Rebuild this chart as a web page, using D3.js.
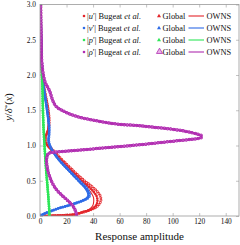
<!DOCTYPE html>
<html>
<head>
<meta charset="utf-8">
<script src="https://cdn.jsdelivr.net/npm/d3@7"></script>
<style>
  body { margin: 0; background: #fff; }
  svg { display: block; font-family: "Liberation Serif", "DejaVu Serif", serif; }
</style>
</head>
<body>
<svg id="chart" width="240" height="245"></svg>
<script>
// axis ticks
const xTicks = [0, 20, 40, 60, 80, 100, 120, 140];
const yTicks = [0, 0.5, 1, 1.5, 2, 2.5, 3];

// legend
const varNames = ["u", "v", "p", "ρ"];
const colors = ["#e3262b", "#2e6be6", "#2ee658", "#b02cb0"];
const tints = ["#fbe3e3", "#dfe8fb", "#dcfbe4", "#e9b3e9"];

// [amplitude, y/delta*]
const uBugeat = [[1,0],[12,0.006],[22,0.015],[28,0.03],[33,0.055],[38,0.085],[42,0.12],[44.8,0.17],[46,0.23],[45.3,0.29],[43,0.35],[39,0.42],[33.5,0.5],[27.5,0.6],[22,0.7],[16.5,0.8],[12,0.89],[8,0.97],[5,1.04],[4.2,1.1],[5,1.16],[6.5,1.24],[7,1.35],[6.3,1.5],[4.8,1.66],[3.2,1.82],[2,1.98],[1.3,2.2],[0.9,2.5],[0.6,3]];
const uGlobal = [[0.5,0],[10,0.005],[20,0.012],[27,0.025],[31,0.05],[36,0.075],[40,0.11],[42.5,0.16],[43.3,0.22],[42.7,0.28],[40.5,0.34],[37,0.41],[32,0.49],[26.5,0.59],[21,0.69],[16,0.79],[11.5,0.88],[7.5,0.96],[4.5,1.03],[3.5,1.08],[4.2,1.13],[5.6,1.19],[6.5,1.28],[6.4,1.4],[5.4,1.55],[3.8,1.7],[2.5,1.85],[1.6,2.0],[1.1,2.2],[0.8,2.5],[0.5,3]];
const uOwns = [[0.5,0],[10,0.005],[20,0.01],[27,0.02],[30,0.045],[34,0.07],[37.5,0.1],[39.8,0.15],[40.5,0.21],[40.2,0.27],[38.5,0.33],[35.5,0.4],[31,0.48],[25.5,0.58],[20.5,0.68],[15.5,0.78],[11,0.88],[7,0.96],[4,1.03],[3,1.08],[3.8,1.13],[5.3,1.19],[6.2,1.28],[6.2,1.4],[5.2,1.55],[3.7,1.7],[2.4,1.85],[1.6,2.0],[1.1,2.2],[0.8,2.5],[0.5,3]];

const vBugeat = [[0.5,0],[3,0.03],[8.5,0.07],[14.5,0.11],[21,0.145],[27,0.18],[32,0.215],[36,0.25],[37.5,0.29],[37,0.34],[35,0.4],[31.3,0.47],[26.5,0.56],[21.8,0.65],[17.2,0.74],[13,0.83],[9.7,0.92],[7.5,1.0],[6.6,1.07],[6.9,1.15],[7,1.25],[6.5,1.35],[5.4,1.5],[4,1.68],[2.7,1.85],[1.8,2.05],[1.1,2.3],[0.8,2.6],[0.5,3]];
const vGlobal = [[0.5,0],[3,0.03],[8,0.07],[14,0.11],[20.5,0.145],[26.5,0.18],[31.5,0.215],[35.2,0.25],[36.8,0.29],[36.3,0.34],[34.3,0.4],[30.6,0.47],[26,0.56],[21.4,0.65],[16.8,0.74],[12.8,0.83],[9.5,0.92],[7.3,1.0],[6.4,1.07],[6.7,1.15],[6.8,1.25],[6.3,1.35],[5.3,1.5],[3.9,1.68],[2.6,1.85],[1.7,2.05],[1.1,2.3],[0.8,2.6],[0.5,3]];
const vOwns = [[0.5,0],[3,0.03],[8,0.07],[14,0.11],[20,0.145],[26,0.18],[31,0.215],[34.5,0.25],[36,0.29],[35.5,0.34],[33.5,0.4],[30,0.47],[25.5,0.56],[21,0.65],[16.5,0.74],[12.5,0.83],[9.3,0.92],[7.2,1.0],[6.3,1.07],[6.6,1.15],[6.7,1.25],[6.2,1.35],[5.2,1.5],[3.8,1.68],[2.6,1.85],[1.7,2.05],[1.1,2.3],[0.8,2.6],[0.5,3]];

const pBugeat = [[7.2,0],[6.8,0.15],[6,0.35],[5.1,0.55],[4.3,0.75],[3.6,0.95],[3,1.15],[2.5,1.35],[2.2,1.55],[1.9,1.8],[1.4,2.05],[0.9,2.3],[0.5,2.6],[0.3,3]];
const pGlobal = [[7,0],[6.7,0.15],[5.9,0.35],[5,0.55],[4.2,0.75],[3.5,0.95],[2.9,1.15],[2.4,1.35],[2.1,1.55],[1.8,1.8],[1.3,2.05],[0.8,2.3],[0.5,2.6],[0.3,3]];
const pOwns = [[7,0],[6.6,0.15],[5.8,0.35],[5,0.55],[4.2,0.75],[3.5,0.95],[2.9,1.15],[2.4,1.35],[2.1,1.55],[1.8,1.8],[1.3,2.05],[0.8,2.3],[0.5,2.6],[0.3,3]];

const rhoBugeat = [[27.8,0],[27.4,0.04],[26.5,0.09],[25,0.14],[22.7,0.19],[19.2,0.25],[15.7,0.31],[12.7,0.37],[10.2,0.44],[8.2,0.52],[6.5,0.61],[5.5,0.7],[5.1,0.78],[5.5,0.85],[6.7,0.89],[8.7,0.9],[11,0.905],[20,0.92],[30,0.935],[45,0.96],[60,0.985],[75,1.01],[90,1.04],[105,1.07],[115,1.09],[121,1.11],[121.5,1.135],[118.5,1.16],[110,1.2],[98,1.235],[85,1.26],[72,1.285],[60,1.3],[50,1.325],[40,1.36],[30,1.4],[22,1.45],[16,1.505],[12.3,1.55],[9.8,1.63],[8.5,1.7],[7.3,1.77],[6,1.82],[4,1.89],[2.3,2.03],[1.3,2.2],[1,2.4],[0.8,2.6],[0.6,2.8],[0.5,3]];
const rhoGlobal = [[27.5,0],[27.2,0.04],[26.3,0.09],[24.8,0.14],[22.5,0.19],[19,0.25],[15.5,0.31],[12.5,0.37],[10,0.44],[8,0.52],[6.3,0.61],[5.3,0.7],[4.9,0.78],[5.3,0.85],[6.5,0.89],[8.5,0.9],[11,0.905],[20,0.92],[30,0.935],[45,0.96],[60,0.985],[75,1.01],[90,1.04],[105,1.07],[115,1.09],[121.5,1.11],[122,1.135],[119,1.16],[110,1.2],[98,1.235],[85,1.26],[72,1.285],[60,1.3],[50,1.325],[40,1.36],[30,1.4],[22,1.45],[16,1.505],[12.3,1.55],[9.8,1.63],[8.5,1.7],[7.3,1.77],[6,1.82],[4,1.89],[2.3,2.03],[1.3,2.2],[1,2.4],[0.8,2.6],[0.6,2.8],[0.5,3]];
const rhoOwns = [[27.5,0],[27.2,0.04],[26.3,0.09],[24.8,0.14],[22.5,0.19],[19,0.25],[15.5,0.31],[12.5,0.37],[10,0.44],[8,0.52],[6.3,0.61],[5.3,0.7],[4.9,0.78],[5.3,0.85],[6.5,0.89],[8.5,0.9],[11,0.905],[20,0.92],[30,0.935],[45,0.96],[60,0.985],[75,1.01],[90,1.04],[105,1.07],[115,1.09],[121.5,1.11],[122,1.135],[119,1.16],[110,1.2],[98,1.235],[85,1.26],[72,1.285],[60,1.3],[50,1.325],[40,1.36],[30,1.4],[22,1.45],[16,1.505],[12.3,1.55],[9.8,1.63],[8.5,1.7],[7.3,1.77],[6,1.82],[4,1.89],[2.3,2.03],[1.3,2.2],[1,2.4],[0.8,2.6],[0.6,2.8],[0.5,3]];

const bugeatSeries = [uBugeat, vBugeat, pBugeat, rhoBugeat];
const globalSeries = [uGlobal, vGlobal, pGlobal, rhoGlobal];
const ownsSeries = [uOwns, vOwns, pOwns, rhoOwns];

const serif = "\"Liberation Serif\", \"DejaVu Serif\", serif";
const svg = d3.select("#chart");
const plotLeft = 40, plotRight = 239, plotTop = 4.5, plotBottom = 216;

const x = d3.scaleLinear().domain([0, 150]).range([plotLeft, plotRight]);
const y = d3.scaleLinear().domain([0, 3]).range([plotBottom, plotTop]);

svg.append("defs").append("clipPath").attr("id", "plotclip")
  .append("rect")
  .attr("x", plotLeft).attr("y", plotTop)
  .attr("width", plotRight - plotLeft).attr("height", plotBottom - plotTop);

// axes, ticks pointing inward on all four sides
const axisColor = "#9a9a9a";
function styleAxis(g) {
  g.attr("font-family", serif).attr("font-size", 7.4);
  g.select(".domain").remove();
  g.selectAll(".tick line").attr("stroke", axisColor).attr("stroke-width", 0.6);
  g.selectAll(".tick text").attr("fill", "#111");
}

svg.append("g").attr("transform", `translate(0,${plotBottom})`)
  .call(d3.axisBottom(x).tickValues(xTicks).tickSize(-3).tickPadding(3))
  .call(styleAxis);
svg.append("g").attr("transform", `translate(0,${plotTop})`)
  .call(d3.axisTop(x).tickValues(xTicks).tickSize(-3).tickFormat(""))
  .call(styleAxis);
svg.append("g").attr("transform", `translate(${plotLeft},0)`)
  .call(d3.axisLeft(y).tickValues(yTicks).tickSize(-3).tickPadding(4))
  .call(styleAxis);
svg.append("g").attr("transform", `translate(${plotRight},0)`)
  .call(d3.axisRight(y).tickValues(yTicks).tickSize(-3).tickFormat(""))
  .call(styleAxis);

const line = d3.line()
  .x(d => x(d[0]))
  .y(d => y(d[1]))
  .curve(d3.curveCatmullRom.alpha(0.5));

const plot = svg.append("g").attr("clip-path", "url(#plotclip)");

// markers are drawn as dense dotted strokes along the sampled profile
function markers(data, outer, inner, size, gap) {
  plot.append("path").attr("d", line(data))
    .attr("fill", "none").attr("stroke", outer)
    .attr("stroke-width", size).attr("stroke-linecap", "round")
    .attr("stroke-dasharray", `0 ${gap}`);
  plot.append("path").attr("d", line(data))
    .attr("fill", "none").attr("stroke", inner)
    .attr("stroke-width", size * 0.45).attr("stroke-linecap", "round")
    .attr("stroke-dasharray", `0 ${gap}`);
}

varNames.forEach((v, i) => {
  const big = i === 3;
  markers(bugeatSeries[i], colors[i], tints[i], 2.8, 2.4);
  markers(globalSeries[i], colors[i], big ? tints[i] : colors[i], big ? 3.5 : 2.6, big ? 3.1 : 2.4);
  plot.append("path").attr("d", line(ownsSeries[i]))
    .attr("fill", "none").attr("stroke", colors[i])
    .attr("stroke-width", 1.1);
});

// frame
svg.append("rect")
  .attr("x", plotLeft).attr("y", plotTop)
  .attr("width", plotRight - plotLeft).attr("height", plotBottom - plotTop)
  .attr("fill", "none").attr("stroke", axisColor).attr("stroke-width", 0.8);

// legend
const legend = svg.append("g").attr("font-family", serif).style("font-size", "8.4px");
const rowY = d3.scaleLinear().domain([0, 3]).range([16, 52]);
varNames.forEach((v, i) => {
  const g = legend.append("g").attr("transform", `translate(0,${rowY(i)})`);
  g.append("circle").attr("cx", 84).attr("cy", 0).attr("r", 1.3)
    .attr("fill", colors[i]);
  const t = g.append("text").attr("x", 87).attr("y", 2.9).attr("fill", "#111");
  t.append("tspan").text("|");
  t.append("tspan").attr("font-style", "italic").text(v);
  t.append("tspan").text("′|  Bugeat  ");
  t.append("tspan").attr("font-style", "italic").text("et al.");
  const big = i === 3;
  g.append("path")
    .attr("transform", `translate(${big ? 159.5 : 159},${big ? -0.3 : 0})`)
    .attr("d", d3.symbol(d3.symbolTriangle, big ? 16 : 7)())
    .attr("fill", big ? tints[i] : colors[i])
    .attr("stroke", big ? colors[i] : "none").attr("stroke-width", 0.8);
  g.append("text").attr("x", 162.5).attr("y", 2.9).attr("fill", "#111").text("Global");
  g.append("line").attr("x1", 188.5).attr("x2", 204).attr("y1", 0).attr("y2", 0)
    .attr("stroke", colors[i]).attr("stroke-width", 1.1);
  g.append("text").attr("x", 206.5).attr("y", 2.9).attr("fill", "#111").text("OWNS");
});

// axis titles
svg.append("text")
  .attr("x", (plotLeft + plotRight) / 2).attr("y", 240)
  .attr("text-anchor", "middle").attr("fill", "#111")
  .attr("font-family", serif)
  .style("font-size", "11px")
  .text("Response amplitude");

const yl = svg.append("text")
  .attr("transform", "translate(12,107) rotate(-90)")
  .attr("text-anchor", "middle").attr("fill", "#111")
  .attr("font-family", serif)
  .style("font-size", "10.5px");
yl.append("tspan").attr("font-style", "italic").text("y");
yl.append("tspan").text("/");
yl.append("tspan").attr("font-style", "italic").text("δ");
yl.append("tspan").attr("dy", -3.5).style("font-size", "7px").text("*");
yl.append("tspan").attr("dy", 3.5).text("(");
yl.append("tspan").attr("font-style", "italic").text("x");
yl.append("tspan").text(")");
</script>
</body>
</html>
